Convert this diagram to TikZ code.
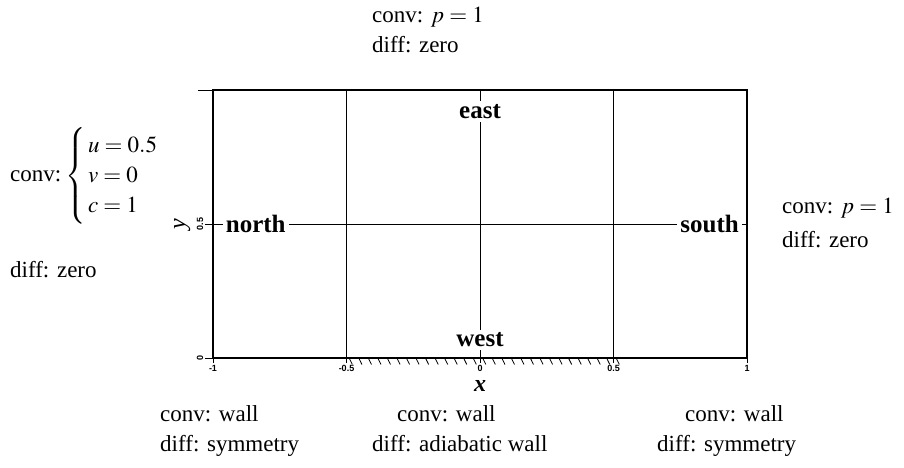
\documentclass[tikz,border=0pt]{standalone}
\usepackage{mathptmx}
\usepackage{fontspec}
\setmainfont{Liberation Serif}
\setsansfont{Liberation Sans}

\begin{document}
\begin{tikzpicture}[x=1pt, y=-1pt,
            txt/.style={font=\fontsize{23}{30}\selectfont, inner sep=0pt, align=left},
            bc/.style={font=\fontsize{25}{25}\selectfont\bfseries, inner sep=3pt},
            ticklab/.style={font=\fontsize{9}{9}\selectfont\sffamily\bfseries, inner sep=1.5pt},
            gridline/.style={line width=0.8pt},
            frameline/.style={line width=1.4pt}]
            \useasboundingbox (0,0) rectangle (904,468);

            \node[txt, anchor=west] (topbc) at (372,30) {conv: $p=1$\\diff: zero};
            \node[txt, anchor=west] (leftconv) at (10,176) {conv:\,\(\left\{\begin{array}{@{\,}l@{}} u=0.5\\ v=0\\ c=1 \end{array}\right.\)};
            \node[txt, anchor=west] (leftdiff) at (10,270) {diff: zero};
            \node[txt, anchor=west] (rightbc) at (782,223) {conv: $p=1$\\[4pt]diff: zero};
            \node[txt, anchor=north west] (bcleft) at (160,405) {conv: wall\\diff: symmetry};
            \node[txt, anchor=north west] (bcmid) at (372,405) {\hspace*{25pt}conv: wall\\diff: adiabatic wall};
            \node[txt, anchor=north west] (bcright) at (657,405) {\hspace*{28pt}conv: wall\\diff: symmetry};

            \begin{scope}[shift={(480,358)}, x=267pt, y=268pt]
            \draw[frameline] (-1,0) rectangle (1,1);
            \draw[gridline] (-0.5,0) -- (-0.5,1);
            \draw[gridline] (0.5,0) -- (0.5,1);

            \node[bc] (east) at (0,0.92) {east};
            \node[bc] (west) at (0,0.067) {west};
            \node[bc] (north) at (-0.84,0.5) {north};
            \node[bc] (south) at (0.86,0.5) {south};

            \coordinate (top) at (0,1);
            \coordinate (bottom) at (0,0);
            \coordinate (left) at (-1,0.5);
            \coordinate (right) at (1,0.5);
            \draw[gridline] (top) -- (east) -- (west) -- (bottom);
            \draw[gridline] (left) -- (north) -- (south) -- (right);

            \foreach \i in {0,...,28}
                \draw[gridline] (-0.49+\i*0.0357,0) -- ++(0.012,-0.024);

            \foreach \yv [count=\k] in {0,0.5} {
                \draw[gridline] (-1.03,\yv) -- (-1,\yv);
                \node[ticklab, rotate=90, anchor=south] (yl\k) at (-1.03,\yv) {\yv};
            }
            \draw[gridline] (-1.055,1) -- (-1,1);
            \foreach \xv [count=\k] in {-1,-0.5,0,0.5,1} {
                \draw[gridline] (\xv,0) -- (\xv,-0.02);
                \node[ticklab, anchor=north] (xl\k) at (\xv,-0.02) {\xv};
            }

            \node[font=\fontsize{24}{24}\selectfont\bfseries\itshape] (xlabel) at (0,-0.105) {x};
            \node[font=\fontsize{24}{24}\selectfont\itshape, rotate=90] (ylabel) at (-1.115,0.5) {y};
            \end{scope}
        \end{tikzpicture}
\end{document}
